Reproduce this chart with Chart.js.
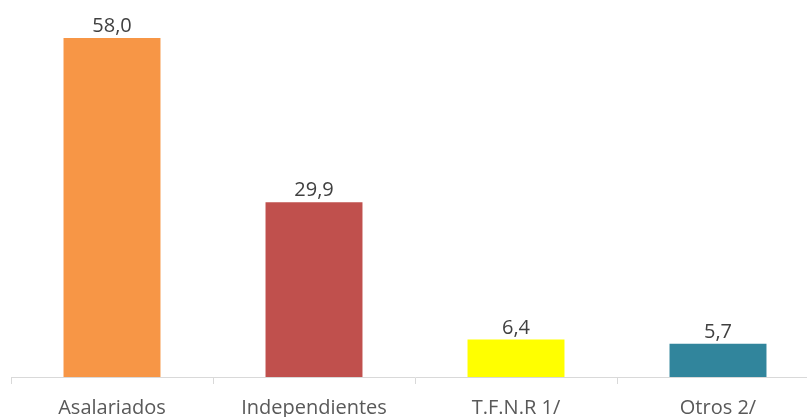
<!DOCTYPE html>
<html>
<head>
<meta charset="utf-8">
<script src="https://cdn.jsdelivr.net/npm/chart.js@4"></script>
<style>
  html, body { margin: 0; padding: 0; background: #fff; overflow: hidden; }
  #wrap { width: 819px; height: 417px; }
</style>
</head>
<body>
<div id="wrap"><canvas id="chart"></canvas></div>
<script>
const categories = ['Asalariados', 'Independientes', 'T.F.N.R 1/', 'Otros 2/'];
const values = [58.0, 29.9, 6.4, 5.7];
const barColors = ['#F79646', '#C0504D', '#FFFF00', '#31859C'];

// value labels on top of each bar, comma decimal like the source
const barLabels = {
    id: 'barLabels',
    afterDatasetsDraw(chart) {
        const ctx = chart.ctx;
        const meta = chart.getDatasetMeta(0);
        ctx.save();
        ctx.font = '20px "Open Sans"';
        ctx.fillStyle = '#404040';
        ctx.textAlign = 'center';
        ctx.textBaseline = 'alphabetic';
        meta.data.forEach((bar, i) => {
            ctx.fillText(values[i].toFixed(1).replace('.', ','), bar.x, bar.y - 6);
        });
        ctx.restore();
    }
};

const ctx = document.getElementById('chart').getContext('2d');
const chart = new Chart(ctx, {
    type: 'bar',
    data: {
        labels: categories,
        datasets: [{
            data: values,
            backgroundColor: barColors,
            borderWidth: 0,
            categoryPercentage: 1,
            barPercentage: 0.48
        }]
    },
    options: {
        responsive: true,
        maintainAspectRatio: false,
        animation: false,
        layout: { padding: { left: 11, right: 0, top: 0, bottom: 0 } },
        plugins: {
            legend: { display: false },
            tooltip: { enabled: false }
        },
        scales: {
            y: {
                display: false,
                min: 0,
                max: 64.5
            },
            x: {
                afterFit(scale) { scale.height = 40; },
                grid: {
                    offset: true,
                    drawOnChartArea: false,
                    drawTicks: true,
                    tickLength: 7,
                    color: '#D9D9D9'
                },
                border: { color: '#D9D9D9', width: 1 },
                ticks: {
                    color: '#595959',
                    font: { family: '"Open Sans"', size: 20 },
                    padding: 12,
                    maxRotation: 0
                }
            }
        }
    },
    plugins: [barLabels]
});
</script>
</body>
</html>
